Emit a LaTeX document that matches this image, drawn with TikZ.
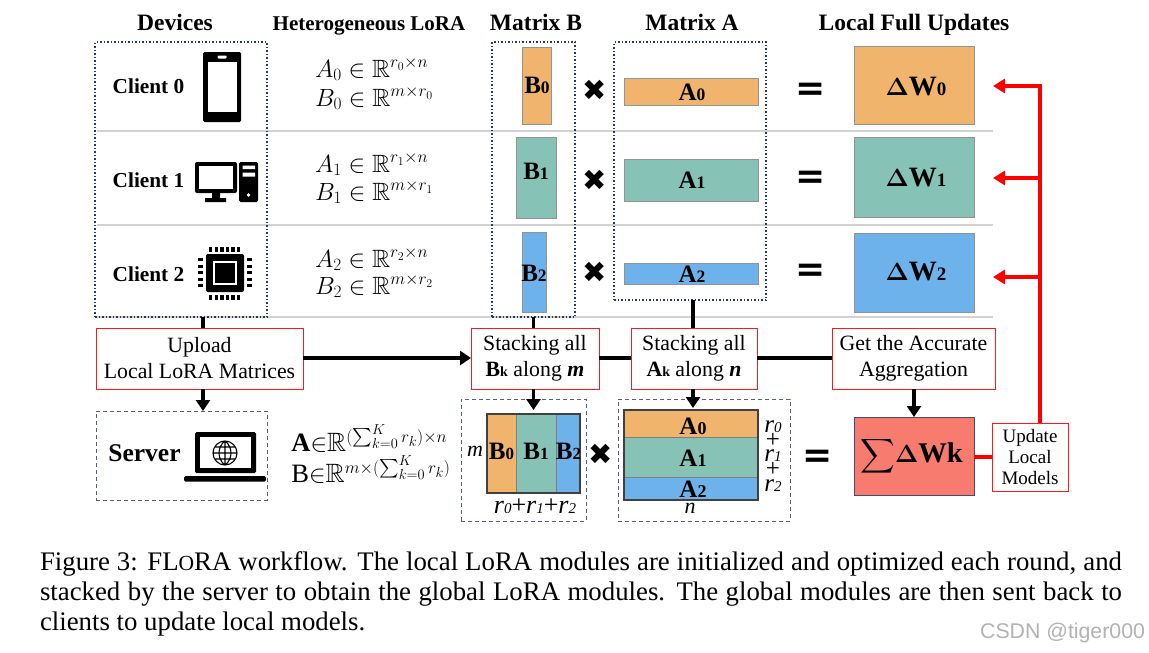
\documentclass[tikz,border=0pt]{standalone}
\usepackage{amsmath,amssymb}
\usepackage{fontspec}
\setmainfont{Liberation Serif}
\newfontfamily\symfont{DejaVu Sans}
\newfontfamily\marksans{Liberation Sans}
\usetikzlibrary{positioning,arrows.meta,calc}
\definecolor{orangecell}{RGB}{241,180,109}
\definecolor{greencell}{RGB}{134,194,181}
\definecolor{bluecell}{RGB}{110,178,235}
\definecolor{sumcell}{RGB}{247,124,111}
\definecolor{navyline}{RGB}{40,55,95}
\newcommand{\fsz}[1]{\fontsize{#1}{#1}\selectfont}
\newcommand{\dg}[2]{{\fsz{#1}#2}}

\begin{document}
\begin{tikzpicture}[
  x=1pt, y=-1pt,
  every node/.style={inner sep=0pt, outer sep=0pt},
  head/.style={font=\fsz{23.5}\bfseries, anchor=base},
  client/.style={font=\fsz{21.3}\bfseries, anchor=base},
  cell/.style={draw=gray!85, line width=0.9pt},
  label/.style={font=\fsz{25}\bfseries},
  wcell/.style={cell, minimum width=120pt},
  wlabel/.style={font=\fsz{28}\bfseries},
  redbox/.style={draw=red!90, fill=white, line width=0.8pt, align=center,
                 font=\fontsize{21.8}{26}\selectfont},
  dotbox/.style={draw=navyline, line width=1.3pt, dash pattern=on 1.5pt off 2pt},
  dashbox/.style={draw=navyline!80, line width=0.9pt, dash pattern=on 4pt off 3pt},
  sepline/.style={draw=gray!35, line width=1.2pt},
  arr/.style={-{Triangle[length=11pt,width=14pt]}, line width=3.5pt},
  link/.style={line width=3.5pt},
  redarr/.style={-{Triangle[length=12pt,width=14pt]}, line width=4pt, red},
  redlink/.style={line width=4pt, red},
  times/.style={font=\symfont\fsz{29}},
  equal/.style={font=\symfont\bfseries\fsz{36}},
  lora/.style={font=\fsz{25}, anchor=base west},
]

\useasboundingbox (0,0) rectangle (1149,653);

% Row separators
\draw[sepline] (97,131) -- (993,131);
\draw[sepline] (97,225) -- (993,225);
\draw[sepline] (97,317) -- (993,317);

% Column heads
\node[head] (hdev) at (175,30) {Devices};
\node[head, font=\fsz{21}\bfseries] (hlora) at (369,30) {Heterogeneous LoRA};
\node[head] (hb) at (536,30) {Matrix B};
\node[head] (ha) at (692,30) {Matrix A};
\node[head] (hw) at (914,30) {Local Full Updates};

% Dotted groups
\node[dotbox, minimum width=172pt, minimum height=275pt] (devices) at (181,179.5) {};
\node[dotbox, minimum width=83pt, minimum height=275pt] (groupb) at (533.5,179.5) {};
\node[dotbox, minimum width=152pt, minimum height=258pt] (groupa) at (690,171) {};

% Clients
\node[client] (c0) at (148.5,93) {Client 0};
\node[client] (c1) at (148.5,187) {Client 1};
\node[client] (c2) at (148.5,281) {Client 2};

% Phone
\fill[black, rounded corners=1.5pt] (203,52) rectangle (241,122);
\fill[white] (208,62) rectangle (236.5,112);
\fill[white, rounded corners=1pt] (217.5,55.5) rectangle (226.5,58.5);

% Desktop
\fill[black, rounded corners=2pt] (195,162) rectangle (237,193);
\fill[white] (199,166) rectangle (233,189);
\fill[black] (212,193) rectangle (220,198) (205,198) rectangle (226,202);
\fill[black, rounded corners=1.5pt] (239,162) rectangle (258,202);
\fill[white] (242.5,165.5) rectangle (255,169) (242.5,172.5) rectangle (255,176.5);
\fill[white] (248.5,195) circle (1.8pt);

% Chip
\fill[black, rounded corners=2pt] (206,254) rectangle (244,292);
\draw[white, line width=2pt] (214,262) rectangle (236,284);
\draw[line width=5pt, dash pattern=on 3.3pt off 2.3pt] (209,249.5) -- (241,249.5);
\draw[line width=5pt, dash pattern=on 3.3pt off 2.3pt] (209,297) -- (241,297);
\draw[line width=5pt, dash pattern=on 3.3pt off 3.2pt] (200.5,258) -- (200.5,288);
\draw[line width=5pt, dash pattern=on 3.3pt off 3.2pt] (249,258) -- (249,288);

% Heterogeneous LoRA formulas
\node[lora] (la0) at (315,77) {$A_0 \in \mathbb{R}^{r_0 \times n}$};
\node[lora] (lb0) at (315,106) {$B_0 \in \mathbb{R}^{m \times r_0}$};
\node[lora] (la1) at (315,172) {$A_1 \in \mathbb{R}^{r_1 \times n}$};
\node[lora] (lb1) at (315,200) {$B_1 \in \mathbb{R}^{m \times r_1}$};
\node[lora] (la2) at (315,267) {$A_2 \in \mathbb{R}^{r_2 \times n}$};
\node[lora] (lb2) at (315,294) {$B_2 \in \mathbb{R}^{m \times r_2}$};

% Matrix B
\node[cell, fill=orangecell, minimum width=29pt, minimum height=77pt] (b0) at (536.5,85.5) {};
\node[label] (tb0) at (537,85) {B\dg{17.5}{0}};
\node[cell, fill=greencell, minimum width=40pt, minimum height=81pt] (b1) at (536,177.5) {};
\node[label] (tb1) at (536,171) {B\dg{17.5}{1}};
\node[cell, fill=bluecell, minimum width=24pt, minimum height=80pt] (b2) at (534,272) {};
\node[label] (tb2) at (534,273) {B\dg{17.5}{2}};

% Matrix A
\node[cell, fill=orangecell, minimum width=134pt, minimum height=27pt] (a0) at (691,91.5) {};
\node[label] (ta0) at (692,92) {A\dg{17.5}{0}};
\node[cell, fill=greencell, minimum width=134pt, minimum height=42pt] (a1) at (691,180) {};
\node[label] (ta1) at (692,180) {A\dg{17.5}{1}};
\node[cell, fill=bluecell, minimum width=134pt, minimum height=21pt] (a2) at (691,273.5) {};
\node[label] (ta2) at (692,274) {A\dg{17.5}{2}};

% Local updates
\node[wcell, fill=orangecell, minimum height=78pt] (w0) at (914,85) {};
\node[wlabel] (tw0) at (916,87) {$\boldsymbol{\Delta}$W\dg{19}{0}};
\node[wcell, fill=greencell, minimum height=80pt] (w1) at (914,177) {};
\node[wlabel] (tw1) at (916,178) {$\boldsymbol{\Delta}$W\dg{19}{1}};
\node[wcell, fill=bluecell, minimum height=79pt] (w2) at (914,272.5) {};
\node[wlabel] (tw2) at (916,272) {$\boldsymbol{\Delta}$W\dg{19}{2}};

% Multiply and equals marks
\node[times] (x0) at (595,90) {✖};
\node[times] (x1) at (595,180) {✖};
\node[times] (x2) at (595,272) {✖};
\node[equal] (e0) at (811,92) {=};
\node[equal] (e1) at (811,180) {=};
\node[equal] (e2) at (811,273) {=};

% Action boxes
\node[redbox, minimum width=207pt, minimum height=61pt] (upload) at (199.5,358.5)
  {Upload\\Local LoRA Matrices};
\node[redbox, minimum width=128pt, minimum height=61pt] (stackb) at (535,358.5)
  {Stacking all\\{\bfseries B\dg{14}{k}} along {\bfseries\itshape m}};
\node[redbox, minimum width=126pt, minimum height=61pt] (stacka) at (694,358.5)
  {Stacking all\\{\bfseries A\dg{14}{k}} along {\bfseries\itshape n}};
\node[redbox, minimum width=163pt, minimum height=61pt] (accurate) at (913.5,358.5)
  {Get the Accurate\\Aggregation};

% Server
\node[dashbox, minimum width=171pt, minimum height=89pt] (server) at (181.5,455.5) {};
\node[font=\fsz{25.5}\bfseries] (tserver) at (144.5,453) {Server};
\fill[black, rounded corners=1.5pt] (195,432) rectangle (256,473);
\fill[white] (200,437) rectangle (251,468);
\fill[black, rounded corners=1.5pt] (184,476) rectangle (266,481.5);
\draw[line width=1.1pt] (225,453) circle (12pt) (213,453) -- (237,453)
  (225,441) -- (225,465) (225,441) .. controls (217,447) and (217,459) .. (225,465)
  (225,441) .. controls (233,447) and (233,459) .. (225,465)
  (214.5,447) -- (235.5,447) (214.5,459) -- (235.5,459);

% Global formulas
\node[font=\fontsize{26.5}{31}\selectfont, align=left] (glob) at (371,454)
  {$\mathbf{A}{\in}\mathbb{R}^{(\sum_{k=0}^{K} r_k)\times n}$\\
   $\mathrm{B}{\in}\mathbb{R}^{m\times(\sum_{k=0}^{K} r_k)}$};

% Stacked B
\node[dashbox, minimum width=125pt, minimum height=122pt] (stackedb) at (523.5,460) {};
\node[cell, fill=orangecell, minimum width=29pt, minimum height=79pt, draw=gray] (sb0) at (501.5,453.5) {};
\node[cell, fill=greencell, minimum width=40pt, minimum height=79pt, draw=gray] (sb1) at (536,453.5) {};
\node[cell, fill=bluecell, minimum width=24pt, minimum height=79pt, draw=gray] (sb2) at (568,453.5) {};
\draw[draw=black!75, line width=1.2pt] (sb0.north west) rectangle (sb2.south east);
\node[label] (tsb0) at (501.5,451) {B\dg{17}{0}};
\node[label] (tsb1) at (536,451) {B\dg{17}{1}};
\node[label] (tsb2) at (568.5,451) {B\dg{17}{2}};
\node[font=\fsz{22}\itshape] (tm) at (475,451) {m};
\node[font=\fsz{26}] (trb) at (535,506) {\textit{r\dg{15}{0}}+\textit{r\dg{15}{1}}+\textit{r\dg{15}{2}}};
\node[times] (x3) at (601,454) {✖};

% Stacked A
\node[dashbox, minimum width=172pt, minimum height=122pt] (stackeda) at (704,460) {};
\node[cell, fill=orangecell, minimum width=134pt, minimum height=27pt, draw=gray] (sa0) at (691,423.5) {};
\node[cell, fill=greencell, minimum width=134pt, minimum height=40pt, draw=gray] (sa1) at (691,457) {};
\node[cell, fill=bluecell, minimum width=134pt, minimum height=23pt, draw=gray] (sa2) at (691,488.5) {};
\draw[draw=black!75, line width=1.2pt] (sa0.north west) rectangle (sa2.south east);
\node[label] (tsa0) at (693,426) {A\dg{18}{0}};
\node[label] (tsa1) at (693,458) {A\dg{18}{1}};
\node[label] (tsa2) at (693,489) {A\dg{18}{2}};
\node[font=\fsz{22}\itshape] (tn) at (690,508) {n};
\node[font=\fontsize{25}{14.7}\selectfont, align=center] (trs) at (773,456)
  {\textit{r\dg{15}{0}}\\+\\\textit{r\dg{15}{1}}\\+\\\textit{r\dg{15}{2}}};
\node[equal] (e3) at (818,459) {=};

% Aggregated update
\node[draw=navyline!70!gray, line width=1pt, fill=sumcell, minimum width=120pt, minimum height=78pt]
  (sum) at (914,456) {};
\node[font=\fsz{28.5}\bfseries] (tsum) at (911.5,456)
  {{\fsz{24}$\displaystyle\boldsymbol{\sum}$}$\boldsymbol{\Delta}$Wk};
\node[redbox, minimum width=76pt, minimum height=68pt, font=\fontsize{19}{21}\selectfont] (update) at (1030,457)
  {Update\\Local\\Models};

% Black connectors
\draw[link] (203,317) coordinate (devout) -- (devout |- upload.north);
\draw[arr] (203,389) -- (203,411);
\draw[arr] (upload.east |- 0,358) -- (stackb.west |- 0,358);
\draw[link] (stackb.east |- 0,358) -- (stacka.west |- 0,358);
\draw[link] (stacka.east |- 0,358) -- (accurate.west |- 0,358);
\draw[link] (533.5,317) -- (533.5,328);
\draw[arr] (533.5,389) -- (533.5,410);
\draw[link] (693,300) -- (693,328);
\draw[arr] (693,389) -- (693,408);
\draw[arr] (914,389) -- (914,417);

% Red connectors
\coordinate (corner) at (1040,86);
\draw[redlink] (sum.east |- 0,457) -- (update.west |- 0,457);
\draw[redarr] (update.north -| corner) -- (corner) -- (993,86);
\draw[redarr] (1040,178) -- (993,178);
\draw[redarr] (1040,277) -- (993,277);

% Caption
\node[font=\fontsize{26.8}{30}\selectfont, text width=1082pt, align=justify, anchor=north west] (caption) at (40,552)
  {Figure 3: FL{\fsz{21.5}O}RA workflow. The local LoRA modules are initialized and optimized each round, and stacked by the server to obtain the global LoRA modules. The global modules are then sent back to clients to update local models.};
\node[font=\marksans\fsz{21.3}, text=gray!60, anchor=east] (mark) at (1145,633) {CSDN @tiger000};

\end{tikzpicture}
\end{document}
